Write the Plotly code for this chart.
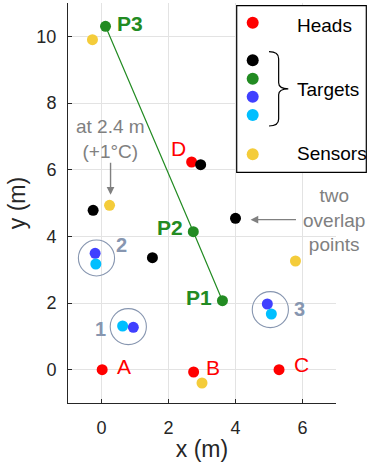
import plotly.graph_objects as go

# Ceiling-mounted heads (labelled A-D)
head_x = [0.02, 2.75, 5.30, 2.69]
head_y = [0.00, -0.07, 0.00, 6.23]
head_names = ["A", "B", "C", "D"]

# Targets, one colour per group
black_x = [2.96, -0.25, 4.00, 1.52]
black_y = [6.15, 4.78, 4.54, 3.36]

path_x = [3.61, 2.74, 0.12]          # P1, P2, P3
path_y = [2.07, 4.14, 10.30]
path_names = ["P1", "P2", "P3"]

blue_x = [-0.19, 0.95, 4.95]
blue_y = [3.49, 1.27, 1.97]
cyan_x = [-0.17, 0.63, 5.07]
cyan_y = [3.17, 1.31, 1.67]

# Sensors
sensor_x = [-0.27, 0.24, 5.79, 3.00]
sensor_y = [9.90, 4.93, 3.26, -0.40]

# Circled pairs 1-3: centre and radius
pair_ids = ["1", "2", "3"]
pair_cx = [0.80, -0.15, 5.04]
pair_cy = [1.29, 3.35, 1.80]
pair_r = 0.54

x_ticks = [0, 2, 4, 6]
y_ticks = [0, 2, 4, 6, 8, 10]

RED = "#ff0000"
BLACK = "#000000"
GREEN = "#228b22"
BLUE = "#4040ff"
CYAN = "#00bfff"
YELLOW = "#f4cc3a"
GRAYBLUE = "#8796b0"
GRAY = "#808080"
INK = "#262626"
FONT = "Liberation Sans, Arial, Helvetica, sans-serif"
MS = 11

W, H = 367, 472
ML, MR, MT, MB = 68, 31, 3, 69


def px2paper(px, py):
    """Figure pixel -> paper coordinates of the plot area."""
    return ((px - ML) / (W - ML - MR), (H - MB - py) / (H - MT - MB))


fig = go.Figure()

fig.add_trace(go.Scatter(x=path_x, y=path_y, mode="lines",
                         line=dict(color=GREEN, width=1.2), hoverinfo="skip"))


def dots(xs, ys, color):
    fig.add_trace(go.Scatter(x=xs, y=ys, mode="markers",
                             marker=dict(color=color, size=MS, line=dict(width=0)),
                             cliponaxis=False))


dots(head_x, head_y, RED)
dots(black_x, black_y, BLACK)
dots(path_x, path_y, GREEN)
dots(blue_x, blue_y, BLUE)
dots(cyan_x, cyan_y, CYAN)
dots(sensor_x, sensor_y, YELLOW)

shapes = []
annotations = []

# circles round the pairs
for cx, cy in zip(pair_cx, pair_cy):
    shapes.append(dict(type="circle", xref="x", yref="y",
                       x0=cx - pair_r, x1=cx + pair_r, y0=cy - pair_r, y1=cy + pair_r,
                       line=dict(color=GRAYBLUE, width=1.1), layer="above"))

# pair numbers
pair_lab_dx = [-0.83, 0.74, 0.87]
pair_lab_dy = [-0.06, 0.39, 0.03]
for name, cx, cy, dx, dy in zip(pair_ids, pair_cx, pair_cy, pair_lab_dx, pair_lab_dy):
    annotations.append(dict(x=cx + dx, y=cy + dy, text=f"<b>{name}</b>", showarrow=False,
                            font=dict(color=GRAYBLUE, size=20, family=FONT)))

# head letters
head_lab_dx = [0.66, 0.58, 0.66, -0.39]
head_lab_dy = [0.09, 0.15, 0.15, 0.41]
for name, hx, hy, dx, dy in zip(head_names, head_x, head_y, head_lab_dx, head_lab_dy):
    annotations.append(dict(x=hx + dx, y=hy + dy, text=name, showarrow=False,
                            font=dict(color=RED, size=21, family=FONT)))

# path point labels
path_lab_dx = [-0.69, -0.71, 0.72]
path_lab_dy = [0.11, 0.14, 0.08]
for name, px_, py_, dx, dy in zip(path_names, path_x, path_y, path_lab_dx, path_lab_dy):
    annotations.append(dict(x=px_ + dx, y=py_ + dy, text=f"<b>{name}</b>", showarrow=False,
                            font=dict(color=GREEN, size=21, family=FONT)))

# callouts
annotations.append(dict(x=0.27, y=6.93, text="at 2.4 m<br>(+1°C)", showarrow=False,
                        font=dict(color=GRAY, size=19, family=FONT)))
annotations.append(dict(x=0.27, y=5.25, ax=0.27, ay=6.25, xref="x", yref="y",
                        axref="x", ayref="y", text="", showarrow=True,
                        arrowhead=2, arrowsize=1.1, arrowwidth=1.4, arrowcolor=GRAY))
annotations.append(dict(x=6.93, y=4.5, text="two<br>overlap<br>points", showarrow=False,
                        font=dict(color=GRAY, size=19, family=FONT)))
annotations.append(dict(x=4.45, y=4.5, ax=5.85, ay=4.5, xref="x", yref="y",
                        axref="x", ayref="y", text="", showarrow=True,
                        arrowhead=2, arrowsize=1.1, arrowwidth=1.4, arrowcolor=GRAY))

# legend box
bx0, by0 = px2paper(236.7, 172.3)
bx1, by1 = px2paper(366.3, 5.7)
shapes.append(dict(type="rect", xref="paper", yref="paper", x0=bx0, x1=bx1, y0=by0, y1=by1,
                   fillcolor="white", line=dict(color=BLACK, width=1.2), layer="above"))

legend_swatch_px = 252.7
legend_swatches = [(22.7, RED), (60.3, BLACK), (78.7, GREEN), (96.7, BLUE),
                   (115.0, CYAN), (154.3, YELLOW)]
for py_, col in legend_swatches:
    sx, sy = px2paper(legend_swatch_px, py_)
    shapes.append(dict(type="circle", xref="paper", yref="paper",
                       xsizemode="pixel", ysizemode="pixel", xanchor=sx, yanchor=sy,
                       x0=-6, x1=6, y0=-6, y1=6,
                       fillcolor=col, line=dict(width=0), layer="above"))

for label, py_ in [("Heads", 25.3), ("Targets", 89.3), ("Sensors", 154.0)]:
    lx, ly = px2paper(295, py_)
    annotations.append(dict(x=lx, y=ly, xref="paper", yref="paper", text=label,
                            xanchor="left", yanchor="middle", showarrow=False,
                            font=dict(color=BLACK, size=19, family=FONT)))

# curly brace grouping the target swatches
def brace(x0, x1, ytop, ybot):
    xm = (x0 + x1) / 2
    ym = (ytop + ybot) / 2
    pts = [
        ("M", [(x0, ytop)]),
        ("Q", [(xm, ytop), (xm, ytop + 7)]),
        ("L", [(xm, ym - 6)]),
        ("Q", [(xm, ym), (x1, ym)]),
        ("Q", [(xm, ym), (xm, ym + 6)]),
        ("L", [(xm, ybot - 7)]),
        ("Q", [(xm, ybot), (x0, ybot)]),
    ]
    out = []
    for cmd, coords in pts:
        conv = [px2paper(a, b) for a, b in coords]
        out.append(cmd + " ".join(f"{a:.5f},{b:.5f}" for a, b in conv))
    return " ".join(out)


shapes.append(dict(type="path", xref="paper", yref="paper",
                   path=brace(269, 288.3, 51.7, 126.0),
                   line=dict(color=BLACK, width=1.2), layer="above"))

axis_common = dict(
    showline=True, linecolor=INK, linewidth=1, mirror=False,
    ticks="inside", ticklen=4, tickwidth=1, tickcolor=INK,
    showgrid=True, gridcolor="#e3e3e3", gridwidth=1, zeroline=False,
    tickfont=dict(size=18, color=INK, family=FONT),
)

fig.update_layout(
    width=W, height=H,
    margin=dict(l=ML, r=MR, t=MT, b=MB),
    paper_bgcolor="white", plot_bgcolor="white",
    showlegend=False,
    font=dict(family=FONT, color=INK),
    xaxis=dict(range=[-1, 7], tickvals=x_ticks, ticklabelstandoff=8,
               title=dict(text="x (m)", font=dict(size=23, color=INK), standoff=4),
               **axis_common),
    yaxis=dict(range=[-1, 11], tickvals=y_ticks, ticklabelstandoff=7,
               title=dict(text="y (m)", font=dict(size=23, color=INK), standoff=4),
               **axis_common),
    shapes=shapes,
    annotations=annotations,
)

fig.write_html("out.html")
